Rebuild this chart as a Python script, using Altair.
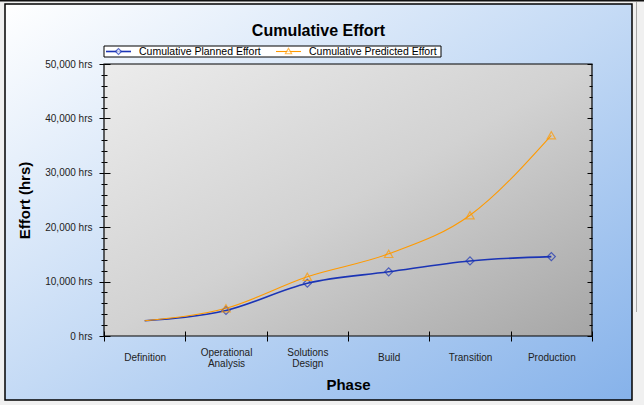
import altair as alt
import pandas as pd

# ---- data -------------------------------------------------------------
phases = ["Definition", "Operational Analysis", "Solutions Design",
          "Build", "Transition", "Production"]
planned_effort = [2800, 4700, 9700, 11800, 13800, 14600]
predicted_effort = [2800, 5100, 10900, 15100, 22200, 36900]
series_names = ["Cumulative Planned Effort", "Cumulative Predicted Effort"]
series_colors = ["#1b34b5", "#ff9a00"]
series_widths = [1.6, 1.1]
y_ticks = list(range(0, 50001, 2000))
y_max = 50000
chart_title = ["Cumulative Effort"]

rows = []
for name, vals in zip(series_names, [planned_effort, predicted_effort]):
    for phase, v in zip(phases, vals):
        rows.append({"phase": phase, "effort": v, "series": name})
df = pd.DataFrame(rows)
one = pd.DataFrame({"k": [0]})
legend_df = pd.DataFrame({"series": series_names,
                          "slot": list(range(len(series_names)))})

# ---- layout -----------------------------------------------------------
W, H = 488, 272
PAD = {"left": 104, "top": 64, "right": 52, "bottom": 69}
FONT = "Liberation Sans"

x_scale = alt.Scale(type="band", domain=phases, paddingInner=0, paddingOuter=0)
y_scale = alt.Scale(domain=[0, y_max], nice=False)
stroke_scale = alt.Scale(domain=series_names, range=series_colors)
width_scale = alt.Scale(domain=series_names, range=series_widths)

major = "datum.value % 10000 === 0"
two_words = "indexof(datum.label, ' ') >= 0"


def tick_size(big, small):
    return {"condition": {"test": major, "value": big}, "value": small}


# two-word phase names wrap onto two lines; single words are lowered so
# that they sit level with the middle of the wrapped ones
x_axis_main = alt.Axis(
    orient="bottom", tickBand="extent", tickSize=5, tickColor="black",
    domain=False, grid=False, labelAngle=0,
    labelExpr="split(datum.label, ' ')", labelBaseline="middle",
    labelPadding={"condition": {"test": two_words, "value": 11}, "value": 16.75},
    labelLineHeight=11.5, labelFont=FONT, labelFontSize=10,
    labelColor="#222222", title="Phase", titleFont=FONT, titleFontSize=15,
    titleFontWeight="bold", titleColor="black", titleX=W / 2, titleY=53,
    titleBaseline="alphabetic", titleAlign="center", zindex=1,
)
y_axis_main = alt.Axis(
    orient="left", values=y_ticks, tickSize=tick_size(5, 3), tickColor="black",
    domain=False, grid=False,
    labelExpr=f"{major} ? format(datum.value, ',') + ' hrs' : ''",
    labelOverlap=False, labelPadding=7, labelFont=FONT, labelFontSize=10,
    labelColor="#222222", title="Effort (hrs)", titleFont=FONT,
    titleFontSize=15, titleFontWeight="bold", titleColor="black",
    titleX=-75, titleY=H / 2, titleAngle=270, titleBaseline="alphabetic",
    titleAlign="center", zindex=1,
)
# inward ticks: bottom edge, left edge, right edge
x_axis_in = alt.Axis(orient="top", offset=-H, tickBand="extent", tickSize=5,
                     tickColor="black", labels=False, domain=False,
                     grid=False, title=None, zindex=1)
y_axis_in_left = alt.Axis(orient="right", offset=-W, values=y_ticks,
                          tickSize=tick_size(6, 3), tickColor="black",
                          labels=False, domain=False, grid=False, title=None,
                          zindex=1)
y_axis_in_right = alt.Axis(orient="left", offset=-W, values=y_ticks,
                           tickSize=tick_size(5, 3), tickColor="black",
                           labels=False, domain=False, grid=False, title=None,
                           zindex=1)

# ---- background panels ------------------------------------------------
window_bar = alt.Chart(one).mark_rect(color="#111111").encode(
    x=alt.value(-104), x2=alt.value(540), y=alt.value(-64), y2=alt.value(-62.5))
scroll_edge = alt.Chart(one).mark_rect(color="#a8a8a8").encode(
    x=alt.value(532), x2=alt.value(533), y=alt.value(-62), y2=alt.value(248))

outer_fill = alt.Gradient(
    gradient="linear", x1=0, y1=0, x2=1, y2=1,
    stops=[alt.GradientStop(offset=0, color="#ffffff"),
           alt.GradientStop(offset=0.5, color="#c4daf5"),
           alt.GradientStop(offset=1, color="#86b2ea")])
outer = alt.Chart(one).mark_rect(fill=outer_fill, stroke="black",
                                 strokeWidth=1.5).encode(
    x=alt.value(-99), x2=alt.value(528), y=alt.value(-60), y2=alt.value(336))

plot_fill = alt.Gradient(
    gradient="linear", x1=0, y1=0, x2=1, y2=1,
    stops=[alt.GradientStop(offset=0, color="#ececec"),
           alt.GradientStop(offset=0.5, color="#d2d2d2"),
           alt.GradientStop(offset=1, color="#a6a6a6")])
plot_bg = alt.Chart(one).mark_rect(fill=plot_fill, stroke="black",
                                   strokeWidth=1.2).encode(
    x=alt.value(0), x2=alt.value(W), y=alt.value(0), y2=alt.value(H))

title = alt.Chart(pd.DataFrame({"t": chart_title})).mark_text(
    font=FONT, fontSize=16, fontWeight="bold", color="black",
    align="center", baseline="alphabetic").encode(
    text="t:N", x=alt.value(214.5), y=alt.value(-28))

# ---- data layers ------------------------------------------------------
lines = alt.Chart(df).mark_line(interpolate="monotone").encode(
    x=alt.X("phase:N", scale=x_scale, sort=phases, axis=x_axis_main),
    y=alt.Y("effort:Q", scale=y_scale, axis=y_axis_main),
    stroke=alt.Stroke("series:N", scale=stroke_scale, legend=None),
    strokeWidth=alt.StrokeWidth("series:N", scale=width_scale, legend=None),
)

planned_pts = alt.Chart(df).transform_filter(
    (alt.datum.series == series_names[0]) & (alt.datum.phase != phases[0])
).mark_point(shape="diamond", filled=False, size=64, strokeWidth=1.2).encode(
    x=alt.X("phase:N", scale=x_scale, sort=phases, axis=x_axis_in),
    y=alt.Y("effort:Q", scale=y_scale, axis=y_axis_in_left),
    stroke=alt.Stroke("series:N", scale=stroke_scale, legend=None),
)

predicted_pts = alt.Chart(df).transform_filter(
    (alt.datum.series == series_names[1]) & (alt.datum.phase != phases[0])
).mark_point(shape="triangle-up", filled=False, size=70, strokeWidth=1.2).encode(
    x=alt.X("phase:N", scale=x_scale, sort=phases, axis=None),
    y=alt.Y("effort:Q", scale=y_scale, axis=y_axis_in_right),
    stroke=alt.Stroke("series:N", scale=stroke_scale, legend=None),
)

# ---- legend box above the plot -----------------------------------------
LEG_Y = -12.5          # centre line of the legend row
LEG_STEP = 170         # horizontal distance between entries
legend_box = alt.Chart(one).mark_rect(fill="white", stroke="black",
                                      strokeWidth=1).encode(
    x=alt.value(0), x2=alt.value(337), y=alt.value(-18), y2=alt.value(-7))

legend_base = alt.Chart(legend_df).transform_calculate(
    x0=f"2 + datum.slot * {LEG_STEP}",
    x1=f"27 + datum.slot * {LEG_STEP}",
    xm=f"14.5 + datum.slot * {LEG_STEP}",
    xl=f"35 + datum.slot * {LEG_STEP}",
)
legend_lines = legend_base.mark_rule().encode(
    x=alt.X("x0:Q", scale=None, axis=None), x2="x1:Q", y=alt.value(LEG_Y),
    stroke=alt.Stroke("series:N", scale=stroke_scale, legend=None),
    strokeWidth=alt.StrokeWidth("series:N", scale=width_scale, legend=None),
)
legend_diamond = legend_base.transform_filter(
    alt.datum.series == series_names[0]
).mark_point(shape="diamond", filled=True, fill="white", size=36,
             strokeWidth=1.1).encode(
    x=alt.X("xm:Q", scale=None, axis=None), y=alt.value(LEG_Y),
    stroke=alt.Stroke("series:N", scale=stroke_scale, legend=None),
)
legend_triangle = legend_base.transform_filter(
    alt.datum.series == series_names[1]
).mark_point(shape="triangle-up", filled=True, fill="white", size=40,
             strokeWidth=1.1).encode(
    x=alt.X("xm:Q", scale=None, axis=None), y=alt.value(LEG_Y - 0.5),
    stroke=alt.Stroke("series:N", scale=stroke_scale, legend=None),
)
legend_text = legend_base.mark_text(
    font=FONT, fontSize=10.5, color="black", align="left",
    baseline="middle").encode(
    x=alt.X("xl:Q", scale=None, axis=None), y=alt.value(LEG_Y + 0.5),
    text="series:N",
)

chart = alt.layer(
    window_bar, scroll_edge, outer, plot_bg, lines, planned_pts,
    predicted_pts, legend_box, legend_lines, legend_diamond,
    legend_triangle, legend_text, title,
).resolve_axis(x="independent", y="independent").properties(
    width=W, height=H, padding=PAD,
    autosize=alt.AutoSizeParams(type="none"), background="#f0f0f0",
).configure_view(stroke=None)

chart.save("out.html", embed_options={"renderer": "svg", "actions": False})
